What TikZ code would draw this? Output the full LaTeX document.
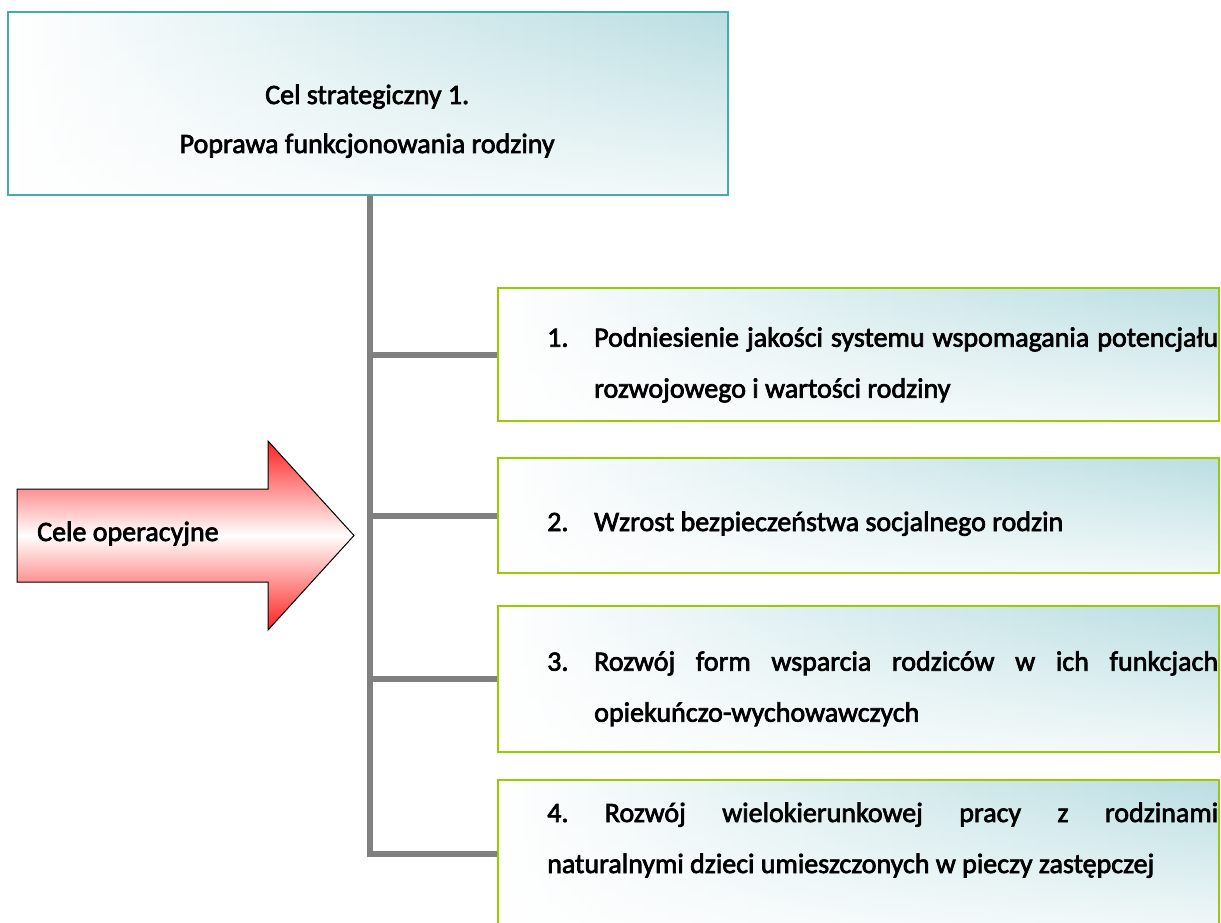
\documentclass[tikz,border=0pt]{standalone}
\usepackage{fontspec}
\setmainfont{Carlito}
\newfontfamily\heavyfont[FakeBold=2.5]{Carlito}
\usetikzlibrary{fadings,backgrounds}
\definecolor{tealbd}{RGB}{70,172,170}
\definecolor{tealfill}{RGB}{186,222,226}
\definecolor{greenbd}{RGB}{153,204,0}
\definecolor{linegray}{RGB}{128,128,128}
\definecolor{arrowred}{RGB}{255,32,32}
\newcommand\numtab[1]{\makebox[47pt][l]{#1}}
\tikzset{
  lightbottom/.style={path picture={\fill[white, path fading=north, fill opacity=0.8]
      (path picture bounding box.south west) rectangle (path picture bounding box.north east);}},
  topbox/.style={rectangle, draw=tealbd, line width=2pt, inner sep=0pt,
      minimum width=720pt, minimum height=183pt, anchor=north west,
      left color=white, right color=tealfill, middle color=tealfill!55!white, lightbottom},
  goalbox/.style={rectangle, draw=greenbd, line width=2pt, inner sep=0pt,
      minimum width=721pt, anchor=north west,
      left color=white, right color=tealfill, middle color=tealfill!55!white, lightbottom},
  conn/.style={draw=linegray, line width=6pt, line join=miter},
  txt/.style={anchor=base west, inner sep=0pt, font=\heavyfont\fontsize{28}{51}\selectfont},
  toptxt/.style={anchor=base west, inner sep=0pt, font=\heavyfont\fontsize{28}{49}\selectfont},
  bigarrow/.style={draw=black, line width=1pt, top color=arrowred, bottom color=arrowred, middle color=white}
}
\begin{document}
\frenchspacing
\begin{tikzpicture}[x=1pt,y=-1pt]
\useasboundingbox (0,0) rectangle (1221,923);

% top box
\node[topbox] (top) at (7,11) {};
\node[toptxt] (toptext) at (7,104) {\vtop{\hsize=720pt\parindent=0pt\centering
  Cel strategiczny 1.\par Poprawa funkcjonowania rodziny}};

% goal boxes
\node[goalbox, minimum height=133pt] (b1) at (497,287) {};
\node[goalbox, minimum height=115pt] (b2) at (497,457) {};
\node[goalbox, minimum height=146pt] (b3) at (497,605) {};
\node[goalbox, minimum height=148pt] (b4) at (497,779) {};

\node[txt] (t1) at (547,346.7) {\vtop{\hsize=671pt\parindent=0pt
  \numtab{1.}\makebox[624pt][s]{Podniesienie jakości systemu wspomagania potencjału}\par
  \hspace*{47pt}rozwojowego i wartości rodziny}};
\node[txt] (t2) at (547,531) {\numtab{2.}Wzrost bezpieczeństwa socjalnego rodzin};
\node[txt] (t3) at (547,670.7) {\vtop{\hsize=671pt\parindent=0pt
  \numtab{3.}\makebox[624pt][s]{Rozwój form wsparcia rodziców w ich funkcjach}\par
  \hspace*{47pt}opiekuńczo-wychowawczych}};
\node[txt] (t4) at (547,822) {\vtop{\hsize=671pt\parindent=0pt
  \makebox[671pt][s]{4. Rozwój wielokierunkowej pracy z rodzinami}\par
  naturalnymi dzieci umieszczonych w pieczy zastępczej}};

% connectors
\begin{scope}[on background layer]
\draw[conn] ([xshift=2pt]top.south) -- ([xshift=2pt]top.south |- b4.west) -- (b4.west);
\draw[conn] ([xshift=2pt]top.south |- b1.west) -- (b1.west);
\draw[conn] ([xshift=2pt]top.south |- b2.west) -- (b2.west);
\draw[conn] ([xshift=2pt]top.south |- b3.west) -- (b3.west);
\end{scope}

% arrow
\path[bigarrow] (17,489) -- (268,489) -- (268,441) -- (354,535.5) -- (268,630) -- (268,582) -- (17,582) -- cycle;
\node[txt] (ops) at (37,541) {Cele operacyjne};
\end{tikzpicture}
\end{document}
